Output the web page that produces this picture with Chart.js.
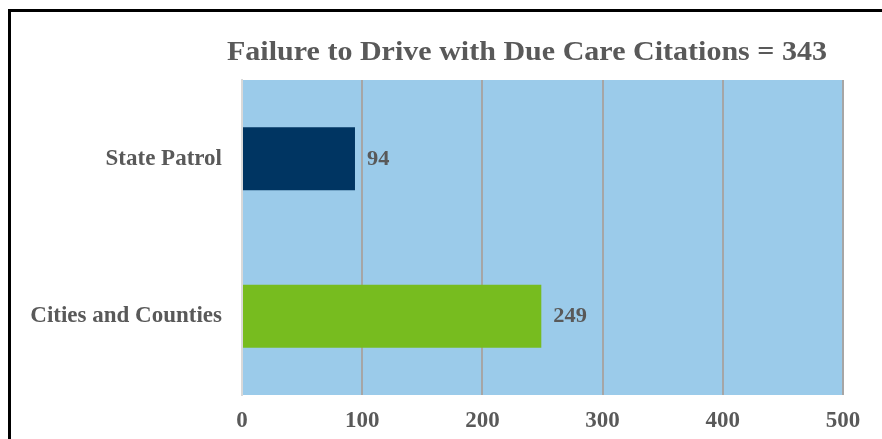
<!DOCTYPE html>
<html>
<head>
<meta charset="utf-8">
<script src="https://cdn.jsdelivr.net/npm/chart.js@4/dist/chart.umd.min.js"></script>
<style>
  html, body { margin: 0; padding: 0; background: #fff; overflow: hidden; }
  #frame { position: absolute; left: 8px; top: 9px; width: 1000px; height: 1000px; border: 3.5px solid #000; box-sizing: border-box; }
  #wrap { position: absolute; left: 0; top: 0; width: 882px; height: 439px; }
</style>
</head>
<body>
<div id="frame"></div>
<div id="wrap"><canvas id="c" width="882" height="439"></canvas></div>
<script>
const titleText = "Failure to Drive with Due Care Citations = 343";
const categories = ["State Patrol", "Cities and Counties"];
const values = [94, 249];
const barColors = ["#003562", "#77BC1F"];
const xTicks = [0, 100, 200, 300, 400, 500];

const FONT = "'Liberation Serif', 'Times New Roman', serif";
const GRAY = "#595959";

function drawStretched(ctx, text, x, y, sx, align) {
  ctx.save();
  ctx.translate(x, y);
  ctx.scale(sx, 1);
  ctx.textAlign = align;
  ctx.fillText(text, 0, 0);
  ctx.restore();
}

const bgPlugin = {
  id: 'plotBg',
  beforeDraw(chart) {
    const {ctx, chartArea: a} = chart;
    ctx.save();
    ctx.fillStyle = '#9BCBEA';
    ctx.fillRect(a.left, a.top, a.right - a.left, a.bottom - a.top);
    ctx.restore();
  }
};

const labelPlugin = {
  id: 'labels',
  afterDatasetsDraw(chart) {
    const {ctx} = chart;
    const meta = chart.getDatasetMeta(0);
    ctx.save();
    ctx.font = "bold 20px " + FONT;
    ctx.fillStyle = GRAY;
    ctx.textBaseline = 'middle';
    meta.data.forEach((bar, i) => {
      drawStretched(ctx, String(values[i]), bar.x + 12, bar.y + 1, 1.12, 'left');
    });
    ctx.restore();
  },
  afterDraw(chart) {
    const {ctx} = chart;
    ctx.save();
    ctx.font = "bold 27px " + FONT;
    ctx.fillStyle = GRAY;
    ctx.textBaseline = 'alphabetic';
    const w = ctx.measureText(titleText).width;
    const sx = 600 / w;
    drawStretched(ctx, titleText, 527, 60, sx, 'center');
    ctx.restore();
  }
};

new Chart(document.getElementById('c'), {
  type: 'bar',
  data: {
    labels: categories,
    datasets: [{
      data: values,
      backgroundColor: barColors,
      borderWidth: 0,
      categoryPercentage: 0.4,
      barPercentage: 1.0
    }]
  },
  options: {
    indexAxis: 'y',
    responsive: false,
    animation: false,
    layout: { padding: { top: 80, right: 39, left: 0, bottom: 0 } },
    plugins: {
      legend: { display: false },
      tooltip: { enabled: false },
      title: { display: false }
    },
    scales: {
      x: {
        min: 0, max: 500,
        afterBuildTicks(scale) { scale.ticks = xTicks.map(v => ({value: v})); },
        afterFit(scale) { scale.height = 44; },
        grid: {
          color: ctx => ctx.tick && ctx.tick.value === 0 ? '#D9D9D9' : '#A6A6A6',
          lineWidth: 2,
          drawTicks: false
        },
        border: { display: false },
        ticks: {
          color: GRAY,
          font: { family: FONT, size: 23, weight: 'bold' },
          padding: 12
        }
      },
      y: {
        afterFit(scale) { scale.width = 242; },
        grid: { display: false, drawTicks: false },
        border: { display: true, color: '#D9D9D9', width: 2 },
        ticks: {
          color: GRAY,
          font: { family: FONT, size: 23, weight: 'bold' },
          padding: 20
        }
      }
    }
  },
  plugins: [bgPlugin, labelPlugin]
});
</script>
</body>
</html>
